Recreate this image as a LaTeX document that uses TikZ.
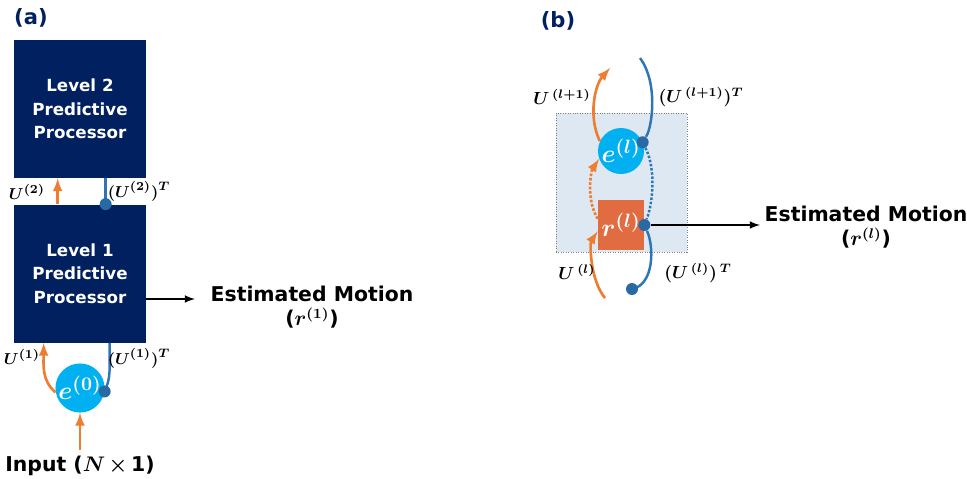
\documentclass[tikz,border=0pt]{standalone}
\usepackage[no-math]{fontspec}
\newfontfamily\verd{DejaVu Sans}
\usepackage{bm}
\usetikzlibrary{arrows,calc}
\definecolor{navy}{RGB}{0,32,96}
\definecolor{ora}{RGB}{237,125,49}
\definecolor{rfill}{RGB}{226,108,66}
\definecolor{blu}{RGB}{46,117,182}
\definecolor{cya}{RGB}{0,176,240}
\definecolor{shade}{RGB}{222,232,242}
\tikzset{
  proc/.style={fill=navy,minimum width=26.4mm,minimum height=27.6mm,inner sep=0,
    text=white,align=center,font=\verd\bfseries\fontsize{9.5}{13.4}\selectfont},
  err/.style={circle,fill=cya,minimum size=9.2mm,inner sep=0,text=white,font=\fontsize{15}{17}\selectfont},
  rep/.style={fill=rfill,minimum width=9.2mm,minimum height=10mm,inner sep=0,text=white,font=\fontsize{15}{17}\selectfont},
  fwd/.style={ora,line width=1.5pt,-latex},
  bck/.style={blu,line width=1.4pt},
  bdot/.style={circle,fill=blu!90!black,minimum size=2.4mm,inner sep=0},
  lbl/.style={font=\fontsize{9.5}{11}\selectfont},
  outtxt/.style={align=center,font=\verd\bfseries\fontsize{11.6}{14}\selectfont},
  panel/.style={text=navy,font=\verd\bfseries\fontsize{12}{14}\selectfont}
}
\begin{document}
\begin{tikzpicture}[x=0.2mm,y=-0.2mm]
\useasboundingbox (0,0) rectangle (967,478);

% (a)
\node[panel] (pa) at (31,18) {(a)};
\node[proc] (L2) at (80,109) {Level 2\\Predictive\\Processor};
\node[proc] (L1) at (80,273.5) {Level 1\\Predictive\\Processor};
\draw[fwd] ($(L1.north west)+(44,0)$) -- ($(L2.south west)+(44,0)$);
\draw[bck] ($(L2.south west)+(92,0)$) -- ($(L1.north west)+(92,0)$) node[bdot] {};
\node[lbl] (u2) at (27,192) {$\bm{U^{(2)}}$};
\node[lbl] (u2t) at (139,191) {$\bm{(U^{(2)})^T}$};

\node[outtxt] (est1) at (312,307) {Estimated Motion\\(\(\bm{r^{(1)}}\))};
\coordinate (m1) at (195,299);
\draw[line width=1pt,-latex] (L1.east |- m1) -- (m1);

\node[err] (e0) at (80,388) {$\bm{e^{(0)}}$};
\draw[fwd] (e0.190) .. controls +(-14,-12) and +(0,22) .. ($(L1.south west)+(30,0)$);
\draw[bck] ($(L1.south west)+(96,0)$) .. controls +(0,30) and +(6,-14) .. (e0.-8) node[bdot] {};
\node[lbl] (u1) at (22,357) {$\bm{U^{(1)}}$};
\node[lbl] (u1t) at (139,358) {$\bm{(U^{(1)})^T}$};

\node[outtxt] (inp) at (80,466) {Input (\(\bm{N}\,\bm{\times}\,\)1)};
\draw[fwd] (inp.north) -- (e0.south);

% (b)
\node[panel] (pb) at (558,21) {(b)};
\node[fill=shade,draw=gray,densely dotted,minimum width=26.2mm,minimum height=27.8mm] (blk) at (621.5,182.5) {};
\node[err] (el) at (621,151) {$\bm{e^{(l)}}$};
\node[rep] (rl) at (621,225) {$\bm{r^{(l)}}$};
\node[bdot] (edot) at (el.22) {};
\node[bdot] (rdot) at (rl.east) {};

\coordinate (tu) at (610,68);
\coordinate (tt) at (640,58);
\coordinate (bu) at (605,298);
\coordinate (bt) at (632,289);
\draw[fwd] (el.155) .. controls +(-12,-25) and +(-15,17) .. (tu);
\draw[bck] (tt) .. controls +(18,24) and +(10,-16) .. (edot);
\draw[fwd,densely dotted] (rl.165) .. controls +(-12,-20) and +(-8,12) .. (el.200);
\draw[bck,densely dotted] (edot) .. controls +(14,28) and +(8,-20) .. (rdot);
\draw[fwd] (bu) .. controls +(-15,-18) and +(-8,12) .. (rl.195);
\draw[bck] (rdot) .. controls +(10,22) and +(22,-4) .. (bt);
\node[bdot] at (bt) {};

\node[lbl,font=\normalsize] (ul1) at (562,97) {$\bm{U^{\,(l+1)}}$};
\node[lbl,font=\normalsize] (ul1t) at (701,97) {$\bm{(U^{\,(l+1)})^T}$};
\node[lbl,font=\normalsize] (ul) at (577,272) {$\bm{U^{\,(l)}}$};
\node[lbl,font=\normalsize] (ult) at (698,273) {$\bm{(U^{\,(l)})^{\,T}}$};

\node[outtxt] (estl) at (866,227) {Estimated Motion\\(\(\bm{r^{(l)}}\))};
\coordinate (ml) at (760,225);
\draw[line width=1pt,-latex] (rdot) -- (ml);
\end{tikzpicture}
\end{document}
